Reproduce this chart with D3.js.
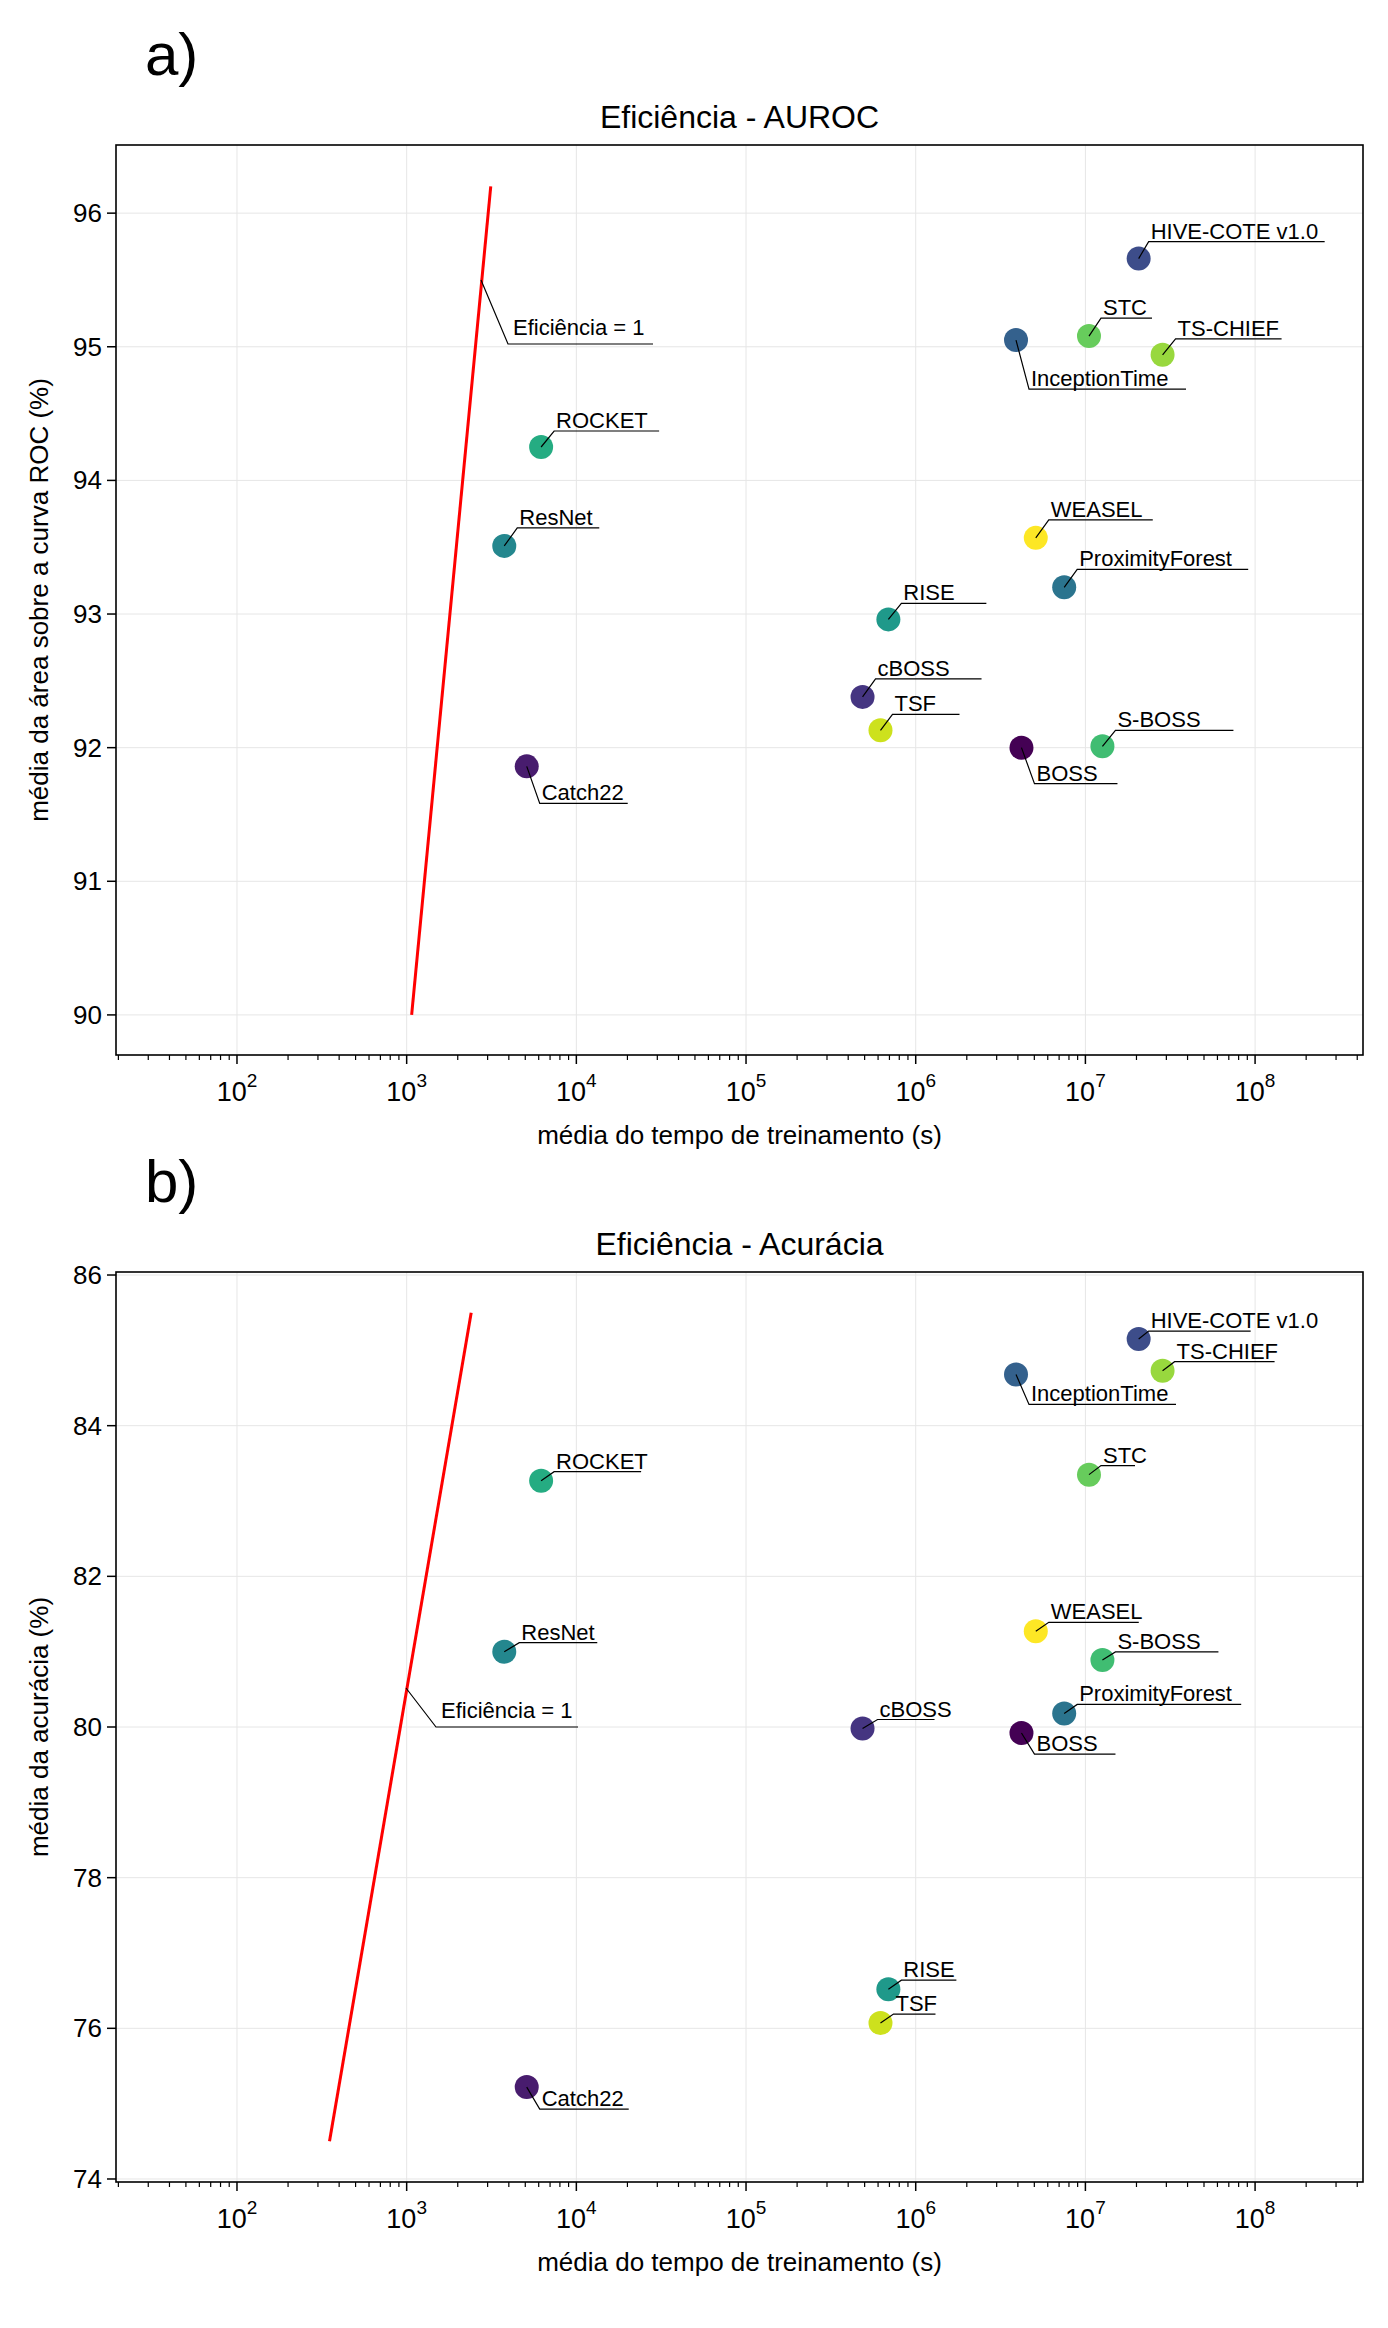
<!DOCTYPE html>
<html><head><meta charset="utf-8">
<script src="https://cdn.jsdelivr.net/npm/d3@7"></script>
<style>body{margin:0;background:#fff}text{font-family:"Liberation Sans",Arial,sans-serif}</style>
</head><body><svg id="c" width="1388" height="2328"></svg>
<script>
// models and their values
const models = ["BOSS","Catch22","cBOSS","HIVE-COTE v1.0","InceptionTime","ProximityForest","ResNet","RISE","ROCKET","S-BOSS","STC","TS-CHIEF","TSF","WEASEL"];
const trainTime = [4.2e6,5.1e3,4.86e5,2.06e7,3.9e6,7.5e6,3.76e3,6.9e5,6.2e3,1.26e7,1.05e7,2.85e7,6.2e5,5.1e6];
const auroc = [92.0,91.86,92.38,95.66,95.05,93.2,93.51,92.96,94.25,92.01,95.08,94.94,92.13,93.57];
const accuracy = [79.92,75.22,79.98,85.15,84.68,80.18,81.0,76.52,83.27,80.89,83.35,84.73,76.07,81.27];
const effLineA = [[1070,90],[3130,96.2]];
const effLineB = [[351,74.5],[2400,85.5]];
const yTicksA = [90,91,92,93,94,95,96];
const yTicksB = [74,76,78,80,82,84,86];
const xTicks = [1e2,1e3,1e4,1e5,1e6,1e7,1e8];

// label layout: [dx, dy, underline length] in px relative to point
const labA = [[13,36,83],[13,37,88],[13,-18,106],[10,-17,176],[13,49,157],[13,-18,171],[13,-18,82],[13,-16,85],[13,-16,105],[13,-16,118],[12,-18,51],[13,-16,106],[12,-16,67],[13,-18,104]];
const labB = [[13,21,81],[13,22,89],[15,-9,57],[10,-8,102],[13,30,147],[13,-9,164],[15,-9,78],[13,-9,55],[13,-9,87],[13,-8,103],[12,-9,34],[12,-9,100],[13,-9,42],[13,-9,90]];

const svg = d3.select("#c");
const color = i => d3.interpolateViridis(i / (models.length - 1));

function panel(o) {
  const m = {l:116, r:1363, t:o.top, b:o.top+910};
  const x = d3.scaleLog().domain([10**1.287, 10**8.636]).range([m.l, m.r]);
  const y = d3.scaleLinear().domain(o.ydom).range([m.b, m.t]);
  const g = svg.append("g");

  g.append("text").attr("x",145).attr("y",m.t-70).attr("font-size",60).text(o.tag);
  g.append("text").attr("x",(m.l+m.r)/2).attr("y",m.t-17).attr("text-anchor","middle").attr("font-size",32).text(o.title);

  // grid
  g.selectAll(".gx").data(xTicks).join("line").attr("x1",x).attr("x2",x).attr("y1",m.t).attr("y2",m.b).attr("stroke","#e6e6e6");
  g.selectAll(".gy").data(o.yticks).join("line").attr("y1",y).attr("y2",y).attr("x1",m.l).attr("x2",m.r).attr("stroke","#e6e6e6");

  // axes
  const minor = [];
  for (let e = 1; e <= 8; e++) for (let k = 2; k <= 9; k++) { const v = k * 10**e; if (v > x.domain()[0] && v < x.domain()[1]) minor.push(v); }
  const xa = g.append("g").attr("transform",`translate(0,${m.b})`);
  xa.selectAll(".mi").data(minor).join("line").attr("x1",x).attr("x2",x).attr("y1",0).attr("y2",5).attr("stroke","#000").attr("stroke-width",1.2);
  xa.selectAll(".ma").data(xTicks).join("line").attr("x1",x).attr("x2",x).attr("y1",0).attr("y2",9).attr("stroke","#000").attr("stroke-width",1.5);
  const xt = xa.selectAll(".tl").data(xTicks).join("text").attr("x",x).attr("y",46).attr("text-anchor","middle").attr("font-size",27);
  xt.append("tspan").text("10");
  xt.append("tspan").attr("dy",-14).attr("font-size",19).text(d => Math.round(Math.log10(d)));

  const ya = g.append("g");
  ya.selectAll("line").data(o.yticks).join("line").attr("x1",m.l-9).attr("x2",m.l).attr("y1",y).attr("y2",y).attr("stroke","#000").attr("stroke-width",1.5);
  ya.selectAll("text").data(o.yticks).join("text").attr("x",m.l-14).attr("y",d=>y(d)+9).attr("text-anchor","end").attr("font-size",26).text(d=>d);

  g.append("rect").attr("x",m.l).attr("y",m.t).attr("width",m.r-m.l).attr("height",m.b-m.t).attr("fill","none").attr("stroke","#000").attr("stroke-width",1.6);
  g.append("text").attr("x",(m.l+m.r)/2).attr("y",m.b+89).attr("text-anchor","middle").attr("font-size",26).text("média do tempo de treinamento (s)");
  g.append("text").attr("transform",`translate(48,${(m.t+m.b)/2}) rotate(-90)`).attr("text-anchor","middle").attr("font-size",26).text(o.ylabel);

  // efficiency line
  g.append("line").attr("x1",x(o.eff[0][0])).attr("y1",y(o.eff[0][1])).attr("x2",x(o.eff[1][0])).attr("y2",y(o.eff[1][1])).attr("stroke","red").attr("stroke-width",3);
  const ea = o.effLab;
  g.append("polyline").attr("points",`${ea[0]},${ea[1]} ${ea[2]},${ea[3]} ${ea[4]},${ea[3]}`).attr("fill","none").attr("stroke","#000").attr("stroke-width",1.2);
  g.append("text").attr("x",ea[2]+5).attr("y",ea[3]-9).attr("font-size",22).text("Eficiência = 1");

  // points
  models.forEach((name, i) => {
    const px = x(trainTime[i]), py = y(o.vals[i]);
    g.append("circle").attr("cx",px).attr("cy",py).attr("r",12).attr("fill",color(i));
  });
  models.forEach((name, i) => {
    const px = x(trainTime[i]), py = y(o.vals[i]);
    const [dx, dy, len] = o.lab[i];
    const ux = px + dx, uy = py + dy;
    g.append("polyline").attr("points",`${px},${py} ${ux},${uy} ${ux+len},${uy}`).attr("fill","none").attr("stroke","#000").attr("stroke-width",1.2);
    g.append("text").attr("x",ux+2).attr("y",uy-3).attr("font-size",22).text(name);
  });
}

panel({top:145, ydom:[89.70,96.51], yticks:yTicksA, vals:auroc, eff:effLineA, lab:labA, tag:"a)", title:"Eficiência - AUROC", ylabel:"média da área sobre a curva ROC (%)", effLab:[481,280,508,344,653]});
panel({top:1272, ydom:[73.96,86.04], yticks:yTicksB, vals:accuracy, eff:effLineB, lab:labB, tag:"b)", title:"Eficiência - Acurácia", ylabel:"média da acurácia (%)", effLab:[406,1688,436,1727,578]});
</script></body></html>
